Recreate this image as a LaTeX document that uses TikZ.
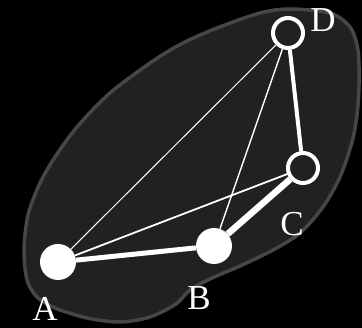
\documentclass[tikz,border=0pt]{standalone}
\usepackage{fontspec}
\setmainfont{Liberation Serif}
\definecolor{blobfill}{HTML}{212121}
\definecolor{blobedge}{HTML}{464646}
\tikzset{
  solidv/.style={circle, fill=white, inner sep=0pt, minimum size=36pt},
  hollowv/.style={circle, draw=white, fill=blobfill, line width=4pt, inner sep=0pt, minimum size=30pt},
  lab/.style={text=white, inner sep=0pt, font=\fontsize{35}{40}\selectfont},
  thick edge/.style={draw=white, line width=#1},
  thin edge/.style={draw=white, line width=#1},
}
\begin{document}
\begin{tikzpicture}[x=1pt, y=-1pt]
\fill[black] (0,0) rectangle (362,328);
\useasboundingbox (0,0) rectangle (362,328);
\draw[fill=blobfill, draw=blobedge, line width=3.5pt]
  plot[smooth cycle, tension=0.5] coordinates {
   (290,9) (330,13) (350,27) (358,50) (359,85) (357,115) (352,142)
   (340,177) (323,207) (300,233) (273,250) (240,266) (212,278)
   (190,290) (176,304) (150,317) (120,322) (87,318) (55,308) (37,297)
   (27,280) (24,250) (28,215) (40,183) (55,157) (77,127) (110,93)
   (153,61) (183,43) (217,28) (260,13)};
\node[solidv] (A) at (58,262) {};
\node[solidv] (B) at (214,246) {};
\node[hollowv] (C) at (303,168) {};
\node[hollowv] (D) at (288,33) {};
\draw[thin edge=1pt] (A) -- (D);
\draw[thin edge=1.8pt] (A) -- (C);
\draw[thin edge=1.4pt] (B) -- (D);
\draw[thick edge=5pt] (A) -- (B);
\draw[thick edge=6.5pt] (B) -- (C);
\draw[thick edge=4pt] (C) -- (D);
\node[lab] (la) at (45,309) {A};
\node[lab] (lb) at (199,298) {B};
\node[lab] (lc) at (292,224) {C};
\node[lab] (ld) at (323,20) {D};
\end{tikzpicture}
\end{document}
